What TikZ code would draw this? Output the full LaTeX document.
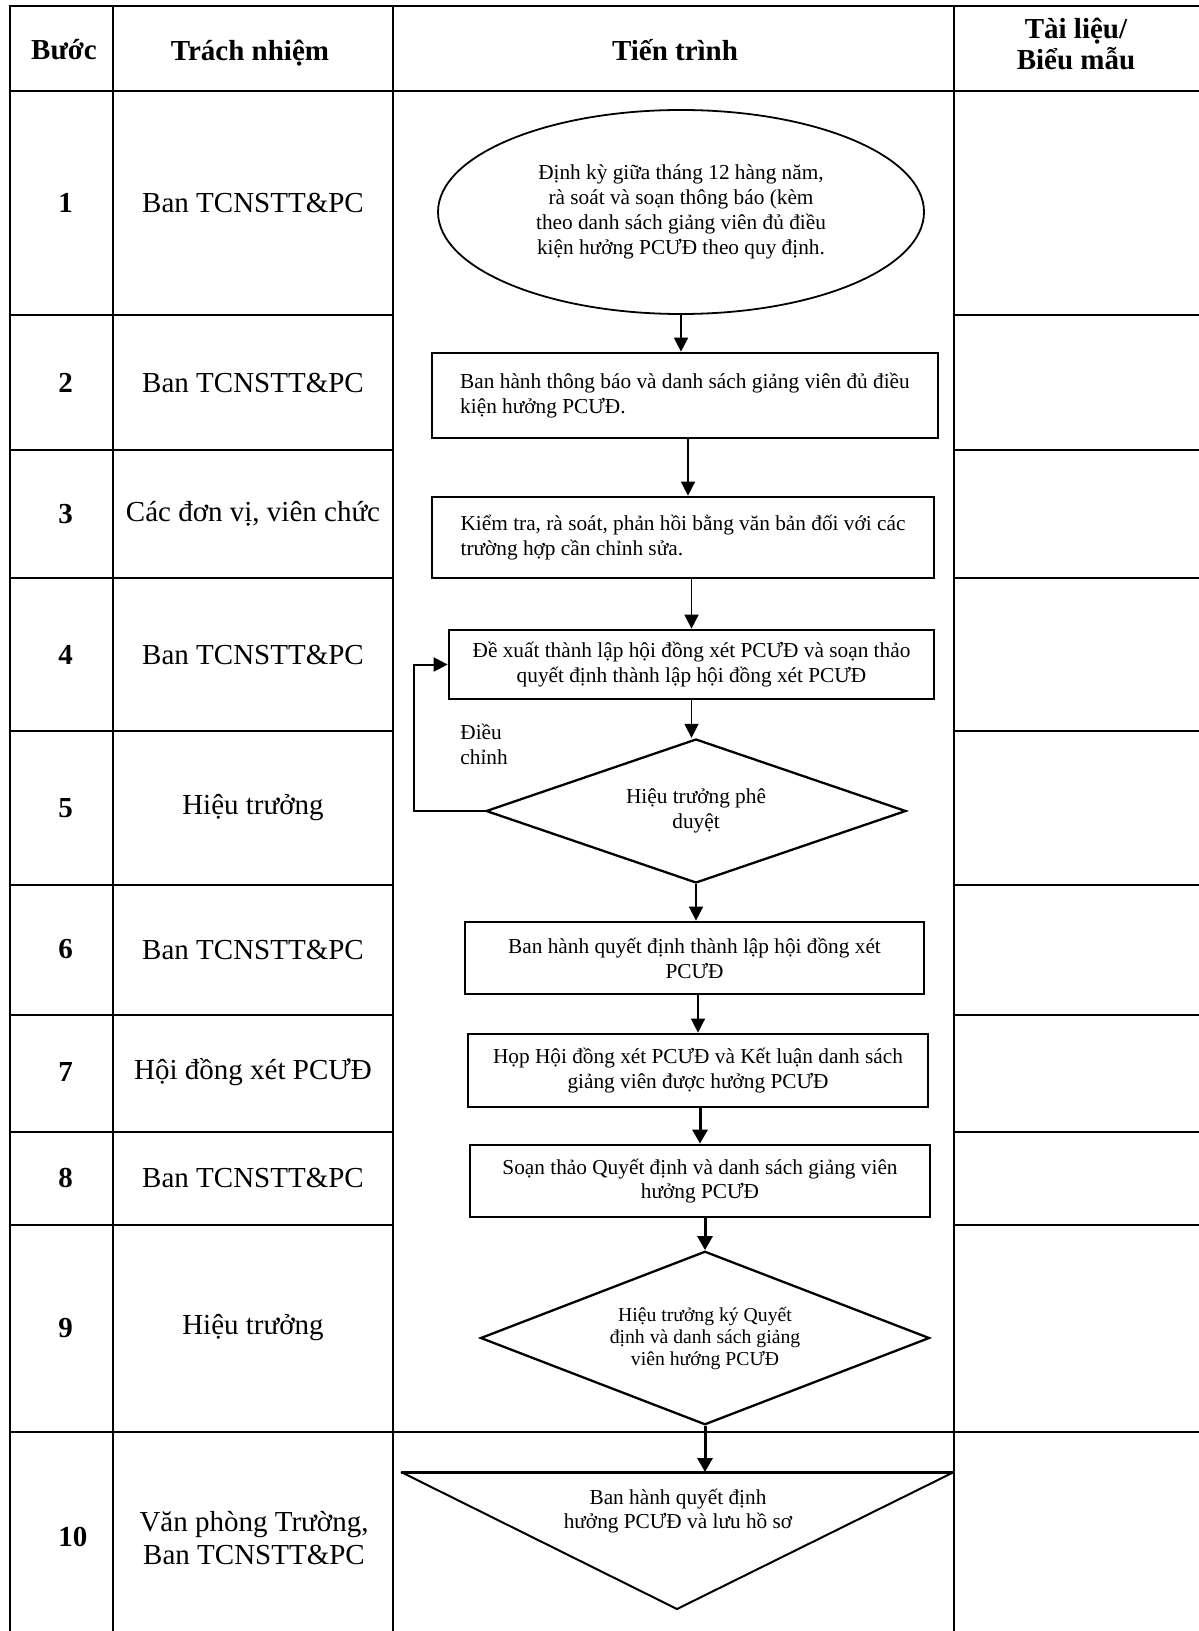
\documentclass[tikz,border=0pt]{standalone}
\usepackage{fontspec}
\setmainfont{Liberation Serif}
\usetikzlibrary{shapes.geometric,arrows.meta,calc}
\begin{document}
\begin{tikzpicture}[x=0.5pt,y=-0.5pt,
  tbl/.style={line width=1.35pt,line cap=rect},
  hdr/.style={font=\bfseries\fontsize{14.5}{15.5}\selectfont,align=center,inner sep=0pt},
  num/.style={font=\bfseries\fontsize{14.5}{16.5}\selectfont,anchor=west,inner sep=0pt},
  resp/.style={font=\fontsize{14.5}{16.5}\selectfont,align=center,inner sep=0pt},
  flowtext/.style={font=\fontsize{10.65}{12.4}\selectfont,inner sep=0pt},
  boxl/.style={flowtext,draw,line width=1.35pt,rectangle,align=left},
  boxc/.style={flowtext,draw,line width=1.35pt,rectangle,align=center},
  ell/.style={flowtext,draw,line width=0.9pt,ellipse,align=center},
  dia/.style={flowtext,draw,line width=1.15pt,diamond,align=center},
  arr/.style={-{Triangle[width=7pt,length=7pt]},line width=0.75pt},
  thickarr/.style={-{Triangle[width=7.5pt,length=7pt]},line width=1.5pt}
]
\useasboundingbox (0,0) rectangle (1198,1631);

% table grid
\draw[tbl] (10,6) -- (1198,6);
\draw[tbl] (10,91) -- (1198,91);
\foreach \x in {10,113,393,954} \draw[tbl] (\x,6) -- (\x,1640);
\foreach \y in {315,450,578,731,885,1015,1132,1225} {
  \draw[tbl] (10,\y) -- (393,\y);
  \draw[tbl] (954,\y) -- (1198,\y);
}
\draw[tbl] (10,1432) -- (1198,1432);

% header
\node[hdr] (hstep) at (64,50) {Bước};
\node[hdr] (hresp) at (250,53) {Trách nhiệm};
\node[hdr] (hproc) at (675,50) {Tiến trình};
\node[hdr] (hdoc) at (1076,44) {Tài liệu/\\Biểu mẫu};

% step numbers
\node[num] (n1) at (58,203) {1};
\node[num] (n2) at (58,382.5) {2};
\node[num] (n3) at (58,514) {3};
\node[num] (n4) at (58,654.5) {4};
\node[num] (n5) at (58,808) {5};
\node[num] (n6) at (58,949.5) {6};
\node[num] (n7) at (58,1072) {7};
\node[num] (n8) at (58,1178) {8};
\node[num] (n9) at (58,1328) {9};
\node[num] (n10) at (58,1537) {10};

% responsibilities
\node[resp] (r1) at (253,203) {Ban TCNSTT\&PC};
\node[resp] (r2) at (253,382.5) {Ban TCNSTT\&PC};
\node[resp] (r3) at (253,514) {Các đơn vị, viên chức};
\node[resp] (r4) at (253,654.5) {Ban TCNSTT\&PC};
\node[resp] (r5) at (253,808) {Hiệu trưởng};
\node[resp] (r6) at (253,949.5) {Ban TCNSTT\&PC};
\node[resp] (r7) at (253,1072) {Hội đồng xét PCƯĐ};
\node[resp] (r8) at (253,1178) {Ban TCNSTT\&PC};
\node[resp] (r9) at (253,1328) {Hiệu trưởng};
\node[resp] (r10) at (254,1538) {Văn phòng Trường,\\Ban TCNSTT\&PC};

% flow
\node[ell,minimum width=243pt,minimum height=102pt] (e1) at (681,212)
  {Định kỳ giữa tháng 12 hàng năm,\\rà soát và soạn thông báo (kèm\\theo danh sách giảng viên đủ điều\\kiện hưởng PCƯĐ theo quy định.};
\node[boxl,minimum width=253pt,minimum height=42.5pt] (b2) at (685,395.5)
  {Ban hành thông báo và danh sách giảng viên đủ điều\\kiện hưởng PCƯĐ.};
\node[boxl,minimum width=251pt,minimum height=40.5pt] (b3) at (683,537.5)
  {Kiểm tra, rà soát, phản hồi bằng văn bản đối với các\\trường hợp cần chỉnh sửa.};
\node[boxc,minimum width=242.5pt,minimum height=34.5pt] (b4) at (691.5,664.5)
  {Đề xuất thành lập hội đồng xét PCƯĐ và soạn thảo\\quyết định thành lập hội đồng xét PCƯĐ};
\node[dia,inner sep=0pt,shape aspect=2.9,minimum width=210pt,minimum height=72pt] (d5) at (696,811)
  {Hiệu trưởng phê\\duyệt};
\node[boxc,minimum width=229.5pt,minimum height=36pt] (b6) at (694.5,958)
  {Ban hành quyết định thành lập hội đồng xét\\PCƯĐ};
\node[boxc,minimum width=230pt,minimum height=36.5pt] (b7) at (698,1070.5)
  {Họp Hội đồng xét PCƯĐ và Kết luận danh sách\\giảng viên được hưởng PCƯĐ};
\node[boxc,minimum width=230pt,minimum height=36pt] (b8) at (700,1181)
  {Soạn thảo Quyết định và danh sách giảng viên\\hưởng PCƯĐ};
\node[dia,inner sep=0pt,shape aspect=2.6,minimum width=224.5pt,minimum height=86.75pt,
  font=\fontsize{9.85}{11}\selectfont] (d9) at (705,1338)
  {Hiệu trưởng ký Quyết\\định và danh sách giảng\\viên hướng PCƯĐ};

% final triangle
\coordinate (tl) at (401,1472);
\coordinate (tr) at (954,1472);
\coordinate (tb) at (677,1609);
\draw[line width=1pt,line join=miter] (tr) -- (tb) -- (tl);
\draw[line width=1.5pt] (tl) -- (tr);
\node[flowtext,align=center] (t10) at (678,1511) {Ban hành quyết định\\hưởng PCƯĐ và lưu hồ sơ};

% loop label
\node[flowtext,align=left,anchor=west] (adj) at (460,744) {Điều\\chỉnh};

% connectors
\draw[arr] (e1.south) -- (e1.south |- b2.north);
\draw[arr] ([xshift=1.5pt]b2.south) -- ([xshift=1.5pt]b2.south |- b3.north);
\draw[arr] (b4.north |- b3.south) -- (b4.north);
\draw[arr] (b4.south) -- (b4.south |- d5.north);
\coordinate (lp) at (414,811);
\draw[arr,line width=1pt] (d5.west) -- (lp) |- (b4.west);
\draw[arr] (d5.south) -- (d5.south |- b6.north);
\draw[arr] (b7.north |- b6.south) -- (b7.north);
\draw[thickarr] (b8.north |- b7.south) -- (b8.north);
\draw[thickarr] (d9.north |- b8.south) -- (d9.north);
\draw[thickarr] (d9.south) -- (d9.south |- tl);
\end{tikzpicture}
\end{document}
